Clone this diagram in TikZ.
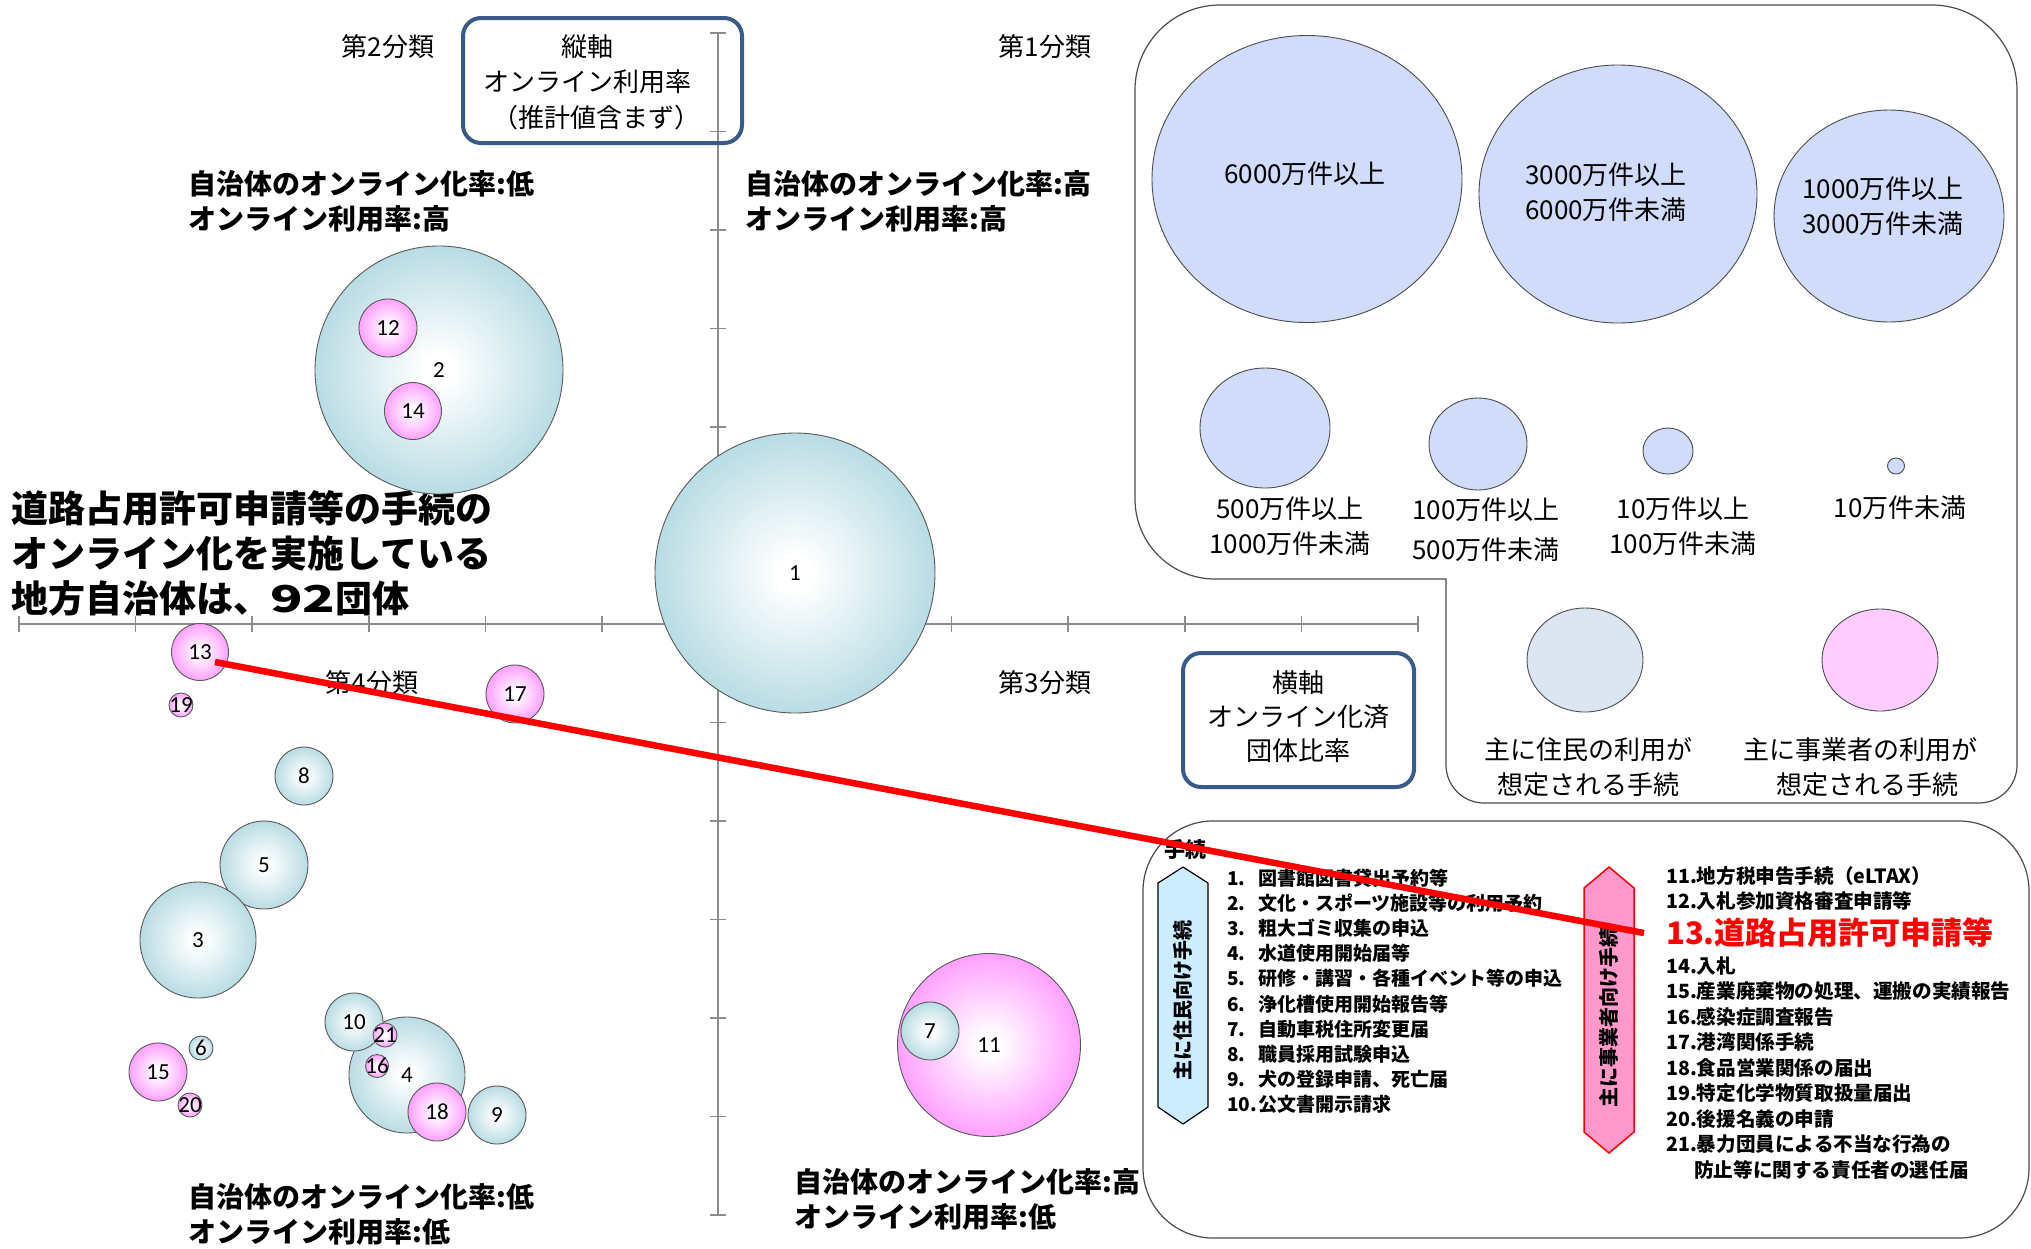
\documentclass[tikz,border=0pt]{standalone}
\usepackage{fontspec}
\setmainfont{Noto Sans CJK JP}
\newfontfamily\numfont{Carlito}
\usetikzlibrary{shapes.geometric,calc}
\definecolor{bubB}{RGB}{185,220,228}
\definecolor{bubP}{RGB}{255,160,255}
\definecolor{legB}{RGB}{208,220,250}
\definecolor{legtwoB}{RGB}{220,230,242}
\definecolor{legtwoP}{RGB}{255,204,255}
\definecolor{boxblue}{RGB}{58,90,138}
\definecolor{axisgray}{RGB}{140,140,140}
\definecolor{hexB}{RGB}{204,236,255}
\definecolor{hexP}{RGB}{255,153,204}
\pgfdeclareradialshading{bblue}{\pgfpoint{0bp}{0bp}}{color(0bp)=(white);color(3bp)=(white);color(25bp)=(bubB);color(50bp)=(bubB)}
\pgfdeclareradialshading{bpink}{\pgfpoint{0bp}{0bp}}{color(0bp)=(white);color(3bp)=(white);color(25bp)=(bubP);color(50bp)=(bubP)}
\newcommand\bubble[6]{%
  \node[#5, minimum size=#4pt] (#1) at (#2,#3) {};
  \node[numlab] (#1t) at (#1.center) {#6};}
\newcommand\leftitem[4]{%
  \node[listtxt] (#1) at (1227,#2) {\makebox[31pt][l]{#3}#4};}
\begin{document}
\begin{tikzpicture}[x=1pt,y=-1pt,
  axisline/.style={draw=axisgray, line width=1.6pt},
  bub/.style={circle, draw=black!65, line width=0.9pt, shade, inner sep=0pt, outer sep=0pt},
  bb/.style={bub, shading=bblue},
  bp/.style={bub, shading=bpink},
  numlab/.style={inner sep=0pt, font=\numfont\fontsize{23}{23}\selectfont},
  txt/.style={inner sep=0pt, align=center, font=\fontsize{26}{35}\selectfont},
  quad/.style={inner sep=0pt, anchor=west, align=left, font=\bfseries\fontsize{28}{35}\selectfont},
  axbox/.style={draw=boxblue, line width=4pt, rounded corners=18pt},
  legbox/.style={draw=black!70, line width=1.2pt},
  legell/.style={ellipse, draw=black!70, line width=0.9pt, fill=legB, inner sep=0pt},
  listtxt/.style={anchor=west, inner sep=0pt, font=\bfseries\fontsize{19}{19}\selectfont},
  rlisttxt/.style={anchor=west, inner sep=0pt, font=\bfseries\fontsize{19.6}{19.6}\selectfont},
  redline/.style={draw=red, line width=6.5pt}
]
\useasboundingbox (0,0) rectangle (2031,1248);
\fill[white] (0,0) rectangle (2031,1248);

% ---------- axes ----------
\coordinate (hxL) at (19,624);
\coordinate (hxR) at (1418,624);
\coordinate (vxT) at (718,33);
\coordinate (vxB) at (718,1215);
\draw[axisline] (hxL) -- (hxR);
\draw[axisline] (vxT) -- (vxB);
\foreach \k in {0,...,12}{
  \draw[axisline] ({19+116.583*\k},616) -- ({19+116.583*\k},632);
  \draw[axisline] (710,{33+98.5*\k}) -- (726,{33+98.5*\k});
}

% ---------- quadrant labels ----------
\node[txt] (c2) at (388,47) {第2分類};
\node[txt] (c1) at (1045,47) {第1分類};
\node[txt] (c4) at (372,683) {第4分類};
\node[txt] (c3) at (1045,683) {第3分類};
\node[quad] (q2) at (188,201) {自治体のオンライン化率:低\\オンライン利用率:高};
\node[quad] (q1) at (745,201) {自治体のオンライン化率:高\\オンライン利用率:高};
\node[quad] (q4) at (188,1214) {自治体のオンライン化率:低\\オンライン利用率:低};
\node[quad] (q3) at (794,1199) {自治体のオンライン化率:高\\オンライン利用率:低};
\node[anchor=west, align=left, inner sep=0pt, font=\bfseries\fontsize{37}{45}\selectfont] (title) at (11,553)
  {道路占用許可申請等の手続の\\オンライン化を実施している\\地方自治体は、\scalebox{1.45}[1]{92}団体};

% ---------- axis boxes ----------
\draw[axbox] (463,18) rectangle (742,143);
\node[txt] (vt1) at (587,47) {縦軸};
\node[txt] (vt2) at (587,82) {オンライン利用率};
\node[txt] (vt3) at (596,118) {（推計値含まず）};
\draw[axbox] (1183,653) rectangle (1414,787);
\node[txt] (ht1) at (1298,683) {横軸};
\node[txt] (ht2) at (1298,717) {オンライン化済};
\node[txt] (ht3) at (1298,751) {団体比率};

% ---------- bubbles ----------
\bubble{b1}{795}{573}{280}{bb}{1}
\bubble{b2}{439}{370}{248}{bb}{2}
\bubble{b12}{388}{328}{58}{bp}{12}
\bubble{b14}{413}{411}{57}{bp}{14}
\bubble{b13}{200}{652}{57}{bp}{13}
\bubble{b19}{181}{705}{24}{bp}{19}
\bubble{b17}{515}{694}{58}{bp}{17}
\bubble{b8}{304}{776}{58}{bb}{8}
\bubble{b5}{264}{865}{88}{bb}{5}
\bubble{b3}{198}{940}{116}{bb}{3}
\bubble{b4}{407}{1075}{116}{bb}{4}
\bubble{b10}{354}{1022}{58}{bb}{10}
\bubble{b21}{385}{1035}{24}{bp}{21}
\bubble{b16}{377}{1066}{23}{bp}{16}
\bubble{b18}{437}{1112}{58}{bp}{18}
\bubble{b9}{497}{1115}{58}{bb}{9}
\bubble{b6}{201}{1048}{24}{bb}{6}
\bubble{b15}{158}{1072}{58}{bp}{15}
\bubble{b20}{190}{1105}{24}{bp}{20}
\bubble{b11}{989}{1045}{183}{bp}{11}
\bubble{b7}{930}{1031}{58}{bb}{7}

% ---------- legend box ----------
\draw[legbox] (1220,5) -- (1932,5) arc[start angle=-90,end angle=0,radius=85]
  -- (2017,765) arc[start angle=0,end angle=90,radius=38]
  -- (1484,803) arc[start angle=90,end angle=180,radius=38]
  -- (1446,579) -- (1215,579) arc[start angle=90,end angle=180,radius=80]
  -- (1135,90) arc[start angle=180,end angle=270,radius=85] -- cycle;
\node[legell, minimum width=310pt, minimum height=287pt] (L1) at (1307,179) {};
\node[legell, minimum width=278pt, minimum height=258pt] (L2) at (1618,194) {};
\node[legell, minimum width=230pt, minimum height=212pt] (L3) at (1889,216) {};
\node[legell, minimum width=130pt, minimum height=120pt] (L4) at (1265,428) {};
\node[legell, minimum width=98pt, minimum height=92pt] (L5) at (1478,444) {};
\node[legell, minimum width=50pt, minimum height=46pt] (L6) at (1668,451) {};
\node[legell, minimum width=17pt, minimum height=16pt] (L7) at (1896,466) {};
\node[txt] (L1t) at (1305,174) {6000万件以上};
\node[txt] (L2t) at (1606,192) {3000万件以上\\6000万件未満};
\node[txt] (L3t) at (1883,206) {1000万件以上\\3000万件未満};
\node[txt] (L4t) at (1290,526) {500万件以上\\1000万件未満};
\node[txt, font=\fontsize{26}{40}\selectfont] (L5t) at (1486,530) {100万件以上\\500万件未満};
\node[txt] (L6t) at (1683,526) {10万件以上\\100万件未満};
\node[txt] (L7t) at (1900,508) {10万件未満};
\node[ellipse, draw=black!70, line width=0.9pt, fill=legtwoB, minimum width=116pt, minimum height=104pt] (M1) at (1585,660) {};
\node[ellipse, draw=black!70, line width=0.9pt, fill=legtwoP, minimum width=116pt, minimum height=102pt] (M2) at (1880,660) {};
\node[txt] (M1a) at (1588,750) {主に住民の利用が};
\node[txt] (M1b) at (1588,785) {想定される手続};
\node[txt] (M2a) at (1860,750) {主に事業者の利用が};
\node[txt] (M2b) at (1867,785) {想定される手続};

% ---------- procedure list box ----------
\draw[legbox, rounded corners=70pt] (1143,821) rectangle (2029,1238);
\node[inner sep=0pt, font=\bfseries\fontsize{21}{21}\selectfont] (te) at (1185,849) {手続};
\filldraw[fill=hexB, draw=black, line width=1.2pt] (1183,867) -- (1208,883) -- (1208,1107) -- (1183,1124) -- (1158,1107) -- (1158,883) -- cycle;
\node[rotate=90, inner sep=0pt, font=\bfseries\fontsize{20}{20}\selectfont] (hexLt) at (1183,1000) {主に住民向け手続};
\filldraw[fill=hexP, draw=red, line width=1.5pt] (1609,867) -- (1634,888) -- (1634,1132) -- (1609,1153) -- (1584,1132) -- (1584,888) -- cycle;
\node[rotate=90, inner sep=0pt, font=\bfseries\fontsize{20}{20}\selectfont] (hexRt) at (1609,1017) {主に事業者向け手続};

\leftitem{i1}{878}{1.}{図書館図書貸出予約等}
\leftitem{i2}{903}{2.}{文化・スポーツ施設等の利用予約}
\leftitem{i3}{928}{3.}{粗大ゴミ収集の申込}
\leftitem{i4}{953}{4.}{水道使用開始届等}
\leftitem{i5}{978}{5.}{研修・講習・各種イベント等の申込}
\leftitem{i6}{1004}{6.}{浄化槽使用開始報告等}
\leftitem{i7}{1029}{7.}{自動車税住所変更届}
\leftitem{i8}{1054}{8.}{職員採用試験申込}
\leftitem{i9}{1079}{9.}{犬の登録申請、死亡届}
\leftitem{i10}{1104}{10.}{公文書開示請求}

\node[rlisttxt] (r11) at (1666,876) {11.地方税申告手続（eLTAX）};
\node[rlisttxt] (r12) at (1666,901) {12.入札参加資格審査申請等};
\node[rlisttxt, text=red, font=\bfseries\fontsize{31}{31}\selectfont] (t13) at (1666,933) {13.道路占用許可申請等};
\node[rlisttxt] (r14) at (1666,966) {14.入札};
\node[rlisttxt] (r15) at (1666,991) {15.産業廃棄物の処理、運搬の実績報告};
\node[rlisttxt] (r16) at (1666,1017) {16.感染症調査報告};
\node[rlisttxt] (r17) at (1666,1042) {17.港湾関係手続};
\node[rlisttxt] (r18) at (1666,1068) {18.食品営業関係の届出};
\node[rlisttxt] (r19) at (1666,1093) {19.特定化学物質取扱量届出};
\node[rlisttxt] (r20) at (1666,1119) {20.後援名義の申請};
\node[rlisttxt] (r21) at (1666,1144) {21.暴力団員による不当な行為の};
\node[rlisttxt] (r21b) at (1694,1170) {防止等に関する責任者の選任届};

% ---------- red connector ----------
\coordinate (rs) at (215,662);
\draw[redline] (rs) -- ([xshift=-22pt]t13.west);
\end{tikzpicture}
\end{document}
